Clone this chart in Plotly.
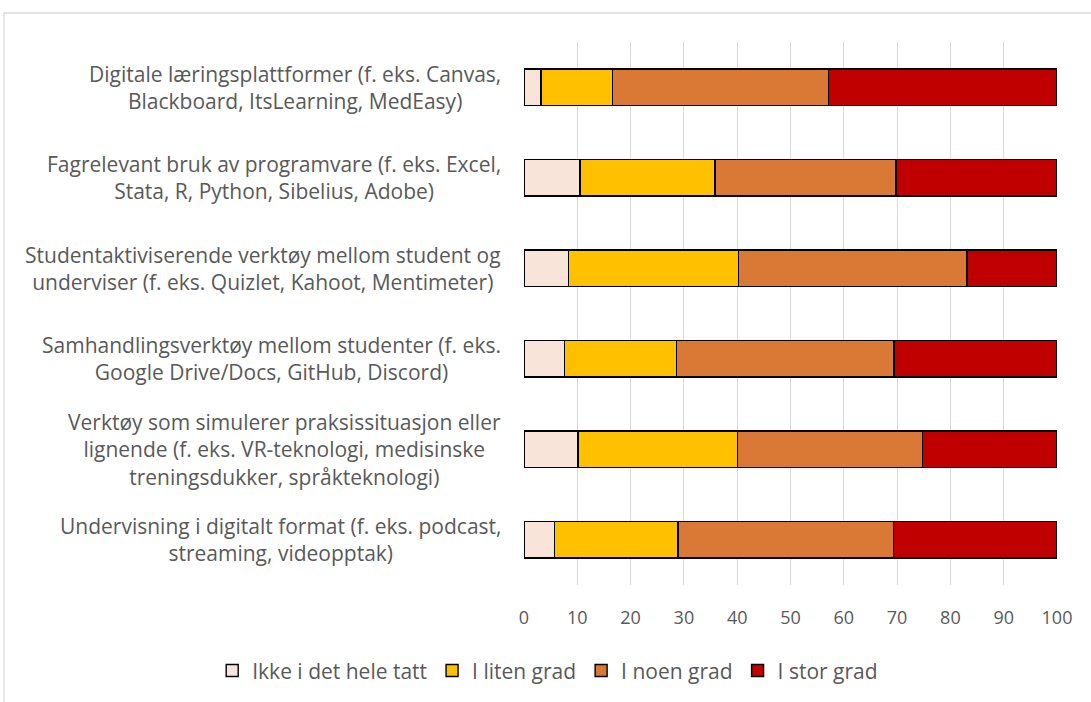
import plotly.graph_objects as go

categories = [
    "Digitale læringsplattformer (f. eks. Canvas,<br>Blackboard, ItsLearning, MedEasy)",
    "Fagrelevant bruk av programvare (f. eks. Excel,<br>Stata, R, Python, Sibelius, Adobe)",
    "Studentaktiviserende verktøy mellom student og<br>underviser (f. eks. Quizlet, Kahoot, Mentimeter)",
    "Samhandlingsverktøy mellom studenter (f. eks.<br>Google Drive/Docs, GitHub, Discord)",
    "Verktøy som simulerer praksissituasjon eller<br>lignende (f. eks. VR-teknologi, medisinske<br>treningsdukker, språkteknologi)",
    "Undervisning i digitalt format (f. eks. podcast,<br>streaming, videopptak)",
]

ikke = [3.2, 10.5, 8.4, 7.6, 10.1, 5.7]
liten = [13.4, 25.3, 31.8, 21.0, 29.9, 23.2]
noen = [40.5, 34.0, 42.9, 40.8, 34.8, 40.4]
stor = [42.9, 30.2, 16.9, 30.6, 25.2, 30.7]

series = [
    ("Ikke i det hele tatt", ikke, "#F8E4D8"),
    ("I liten grad", liten, "#FFC000"),
    ("I noen grad", noen, "#DA7936"),
    ("I stor grad", stor, "#C00000"),
]

xticks = list(range(0, 101, 10))

FONT = "Open Sans"
GREY_TXT = "#595959"

fig = go.Figure()
for name, vals, col in series:
    fig.add_trace(
        go.Bar(
            y=categories,
            x=vals,
            name=name,
            orientation="h",
            marker=dict(color=col, line=dict(color="black", width=1.4)),
        )
    )

# category labels: centred lines, block right-aligned next to the plot
for cat in categories:
    fig.add_annotation(
        x=0,
        y=cat,
        xref="paper",
        yref="y",
        text=cat,
        showarrow=False,
        xanchor="right",
        yanchor="middle",
        align="center",
        xshift=-21,
        font=dict(family=FONT, size=21, color=GREY_TXT),
    )

# chart border (runs off the right and bottom edges like the original)
fig.add_shape(
    type="rect",
    xref="paper",
    yref="paper",
    x0=-0.9756,
    x1=1.2,
    y0=-0.3,
    y1=1.0534,
    line=dict(color="#D9D9D9", width=1.3),
    fillcolor="rgba(0,0,0,0)",
    layer="below",
)

fig.update_layout(
    width=1091,
    height=702,
    barmode="stack",
    bargap=0.6,
    margin=dict(l=524, r=34, t=42, b=117, autoexpand=False),
    plot_bgcolor="white",
    paper_bgcolor="white",
    font=dict(family=FONT, size=18, color=GREY_TXT),
    xaxis=dict(
        range=[0, 100],
        tickvals=xticks,
        showgrid=True,
        gridcolor="#D9D9D9",
        gridwidth=1,
        zeroline=False,
        showline=False,
        ticks="",
        ticklabelstandoff=20,
        tickfont=dict(family=FONT, size=18, color=GREY_TXT),
    ),
    yaxis=dict(
        autorange="reversed",
        showticklabels=False,
        showgrid=False,
        zeroline=False,
        ticks="",
    ),
    legend=dict(
        orientation="h",
        x=-0.585,
        xanchor="left",
        y=-0.158,
        yanchor="middle",
        font=dict(family=FONT, size=21, color=GREY_TXT),
        traceorder="normal",
        itemwidth=30,
    ),
)

fig.write_html(
    "out.html",
    config={"displayModeBar": False},
    post_script="document.body.style.margin='0';",
)
